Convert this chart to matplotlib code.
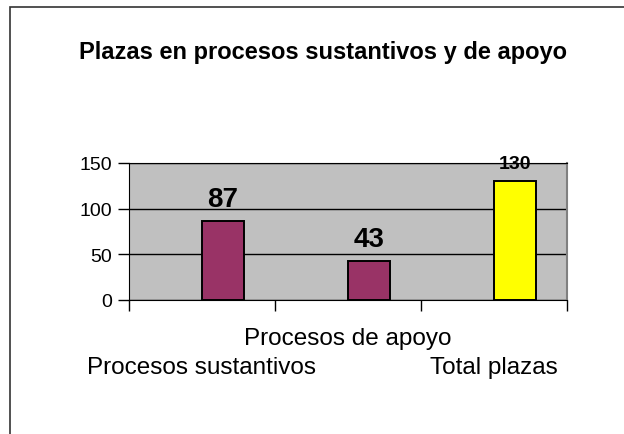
import matplotlib
matplotlib.use('Agg')
import matplotlib.pyplot as plt
from matplotlib.patches import Rectangle

plt.rcParams['font.family'] = ['Liberation Sans', 'DejaVu Sans']

categories = ['Procesos sustantivos', 'Procesos de apoyo', 'Total plazas']
values = [87, 43, 130]
bar_colors = ['#993366', '#993366', '#ffff00']
yticks = [0, 50, 100, 150]

fig = plt.figure(figsize=(6.24, 4.35), dpi=100)
ax = fig.add_axes([129 / 624, 134 / 435, 438 / 624, 137 / 435])
ax.set_facecolor('#c0c0c0')

# outer frame, only top and left edges visible in the original
fig.add_artist(Rectangle((10 / 624, -0.2), 1.2, 1.2 - 8 / 435,
                         transform=fig.transFigure, fill=False,
                         edgecolor='#333333', linewidth=1.2))

xs = list(range(len(categories)))
ax.bar([x + 0.144 for x in xs], values, width=0.29, color=bar_colors,
       edgecolor='black', linewidth=1.4, zorder=3)

ax.set_xlim(-0.5, len(categories) - 0.5)
ax.set_ylim(0, 150)
ax.set_yticks(yticks)
ax.tick_params(axis='y', labelsize=14, length=8, width=1, pad=4)
ax.set_xticks([x - 0.5 for x in xs] + [len(categories) - 0.5])
ax.set_xticklabels([])
ax.tick_params(axis='x', length=8, width=1)
ax.yaxis.grid(True, color='black', linewidth=1)
ax.set_axisbelow(True)

ax.spines['right'].set_color('#808080')
ax.spines['right'].set_linewidth(1.5)
for side in ['left', 'bottom', 'top']:
    ax.spines[side].set_color('black')

# staggered category labels
for i, name in enumerate(categories):
    dy = -31.7 if i % 2 == 1 else -52.6
    ax.annotate(name, (i, 0), xycoords=('data', 'axes fraction'),
                xytext=(0, dy), textcoords='offset points',
                ha='center', va='baseline', fontsize=17.5)

# value labels
for i, v in enumerate(values):
    big = i < 2
    ax.annotate(str(v), (i + 0.144, v), xytext=(0, 10.8 if big else 9.4),
                textcoords='offset points', ha='center', va='baseline',
                fontsize=20 if big else 14, fontweight='bold',
                annotation_clip=False)

fig.text(323 / 624, 1 - 59 / 435, 'Plazas en procesos sustantivos y de apoyo',
         ha='center', va='baseline', fontsize=17, fontweight='bold')

fig.savefig('out.png', dpi=100)
